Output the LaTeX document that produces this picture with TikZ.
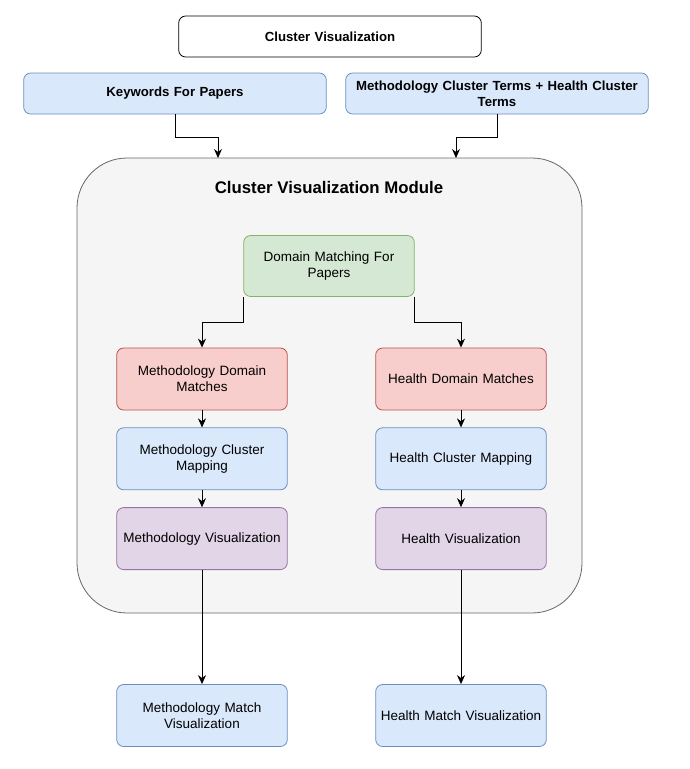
\documentclass[tikz,border=0pt]{standalone}
\usepackage{fontspec}
\setmainfont{Liberation Sans}
\usepackage{tikz}
\usetikzlibrary{positioning,arrows.meta}
\definecolor{blueFill}{HTML}{DAE8FC}
\definecolor{blueLine}{HTML}{6C8EBF}
\definecolor{redFill}{HTML}{F8CECC}
\definecolor{redLine}{HTML}{B85450}
\definecolor{greenFill}{HTML}{D5E8D4}
\definecolor{greenLine}{HTML}{82B366}
\definecolor{purpleFill}{HTML}{E1D5E7}
\definecolor{purpleLine}{HTML}{9673A6}
\definecolor{moduleFill}{HTML}{F5F5F5}
\definecolor{moduleLine}{HTML}{666666}
\tikzset{
  box/.style={draw,rounded corners=7pt,line width=0.8pt,align=center,
    minimum width=170pt,minimum height=62pt,text width=164pt,
    font=\fontsize{13.5}{16}\selectfont},
  topbox/.style={box,minimum width=302pt,minimum height=41pt,text width=296pt,
    font=\fontsize{13.2}{16}\selectfont\bfseries},
  bluebox/.style={fill=blueFill,draw=blueLine},
  redbox/.style={fill=redFill,draw=redLine},
  greenbox/.style={fill=greenFill,draw=greenLine},
  purplebox/.style={fill=purpleFill,draw=purpleLine},
  module/.style={draw=moduleLine,fill=moduleFill,line width=0.8pt,rounded corners=50pt,
    minimum width=505pt,minimum height=455pt},
  arrow/.style={-{Stealth[length=9pt,width=8pt]},line width=0.9pt}
}
\begin{document}
\begin{tikzpicture}[x=1pt,y=-1pt,node distance=17pt and 89pt]
      \useasboundingbox (0,0) rectangle (690,769);
      % input boxes
      \node[topbox,draw=black,fill=white] (title) at (330,36.5) {Cluster Visualization};
      \node[topbox,bluebox] (keywords) at (175,93.5) {Keywords For Papers};
      \node[topbox,bluebox] (terms) at (497,93.5) {Methodology Cluster Terms + Health Cluster\\Terms};
      % module
      \node[module] (mod) at (329.5,385.5) {};
      \node[font=\fontsize{16.8}{20}\selectfont\bfseries] (modtitle) at (329,187) {Cluster Visualization Module};
      \coordinate (kwin) at (218,158);
      \coordinate (termsin) at (456,158);
      \node[box,greenbox,minimum height=61pt] (domain) at (329,266) {Domain Matching For\\Papers};
      \node[box,redbox] (methdom) at (202,379) {Methodology Domain\\Matches};
      \node[box,redbox] (healthdom) at (461,379) {Health Domain Matches};
      \node[box,bluebox,below=of methdom] (methmap) {Methodology Cluster\\Mapping};
      \node[box,bluebox,below=of healthdom] (healthmap) {Health Cluster Mapping};
      \node[box,purplebox,below=of methmap] (methvis) {Methodology Visualization};
      \node[box,purplebox,below=of healthmap] (healthvis) {Health Visualization};
      % outputs
      \node[box,bluebox] (methout) at (202,715.5) {Methodology Match\\Visualization};
      \node[box,bluebox] (healthout) at (461,715.5) {Health Match Visualization};
      % connectors
      \draw[arrow] (keywords.south) -- ++(0,23) -| (kwin);
      \draw[arrow] (terms.south) -- ++(0,23) -| (termsin);
      \draw[arrow] (domain.south west) -- ++(0,25.5) -| (methdom.north);
      \draw[arrow] (domain.south east) -- ++(0,25.5) -| (healthdom.north);
      \draw[arrow] (methdom) -- (methmap);
      \draw[arrow] (healthdom) -- (healthmap);
      \draw[arrow] (methmap) -- (methvis);
      \draw[arrow] (healthmap) -- (healthvis);
      \draw[arrow] (methvis) -- (methout);
      \draw[arrow] (healthvis) -- (healthout);
\end{tikzpicture}
\end{document}
